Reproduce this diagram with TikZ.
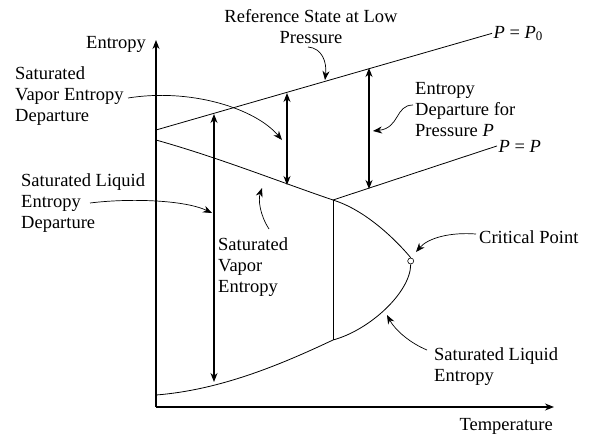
\documentclass[tikz,border=0pt]{standalone}
\usepackage{fontspec}
\setmainfont{Liberation Serif}
\usetikzlibrary{arrows.meta,positioning}

\begin{document}
\begin{tikzpicture}[x=1pt,y=-1pt,
  lbl/.style={font=\fontsize{18.5}{21}\selectfont,inner sep=0pt,align=left},
  curve/.style={line width=0.8pt},
  axis/.style={line width=1.1pt,-{Stealth[length=9pt,width=7pt]}},
  dim/.style={line width=1.1pt,{Stealth[length=9pt,width=7pt]}-{Stealth[length=9pt,width=7pt]}},
  call/.style={line width=0.7pt,-{Stealth[length=9pt,width=7pt]}}
]
\useasboundingbox (0,0) rectangle (592,437);

% axes
\coordinate (O)   at (156,407);
\coordinate (ytop) at (156,40);
\coordinate (xend) at (554,407);
\draw[axis] (O) -- (ytop);
\draw[axis] (O) -- (xend);
\node[lbl,anchor=base east] (ylab) at (146,48) {Entropy};
\node[lbl,anchor=base east] (xlab) at (553,430) {Temperature};

% isobars
\coordinate (p0a) at (156,130);
\coordinate (pa)  at (333,200);
\node[lbl,anchor=base west,inner sep=1.5pt] (p0lab) at (492,38) {\textit{P} = \textit{P}\textsubscript{0}};
\node[lbl,anchor=base west,inner sep=1.5pt] (plab)  at (497,152) {\textit{P} = \textit{P}};
\draw[curve] (p0a) -- (p0lab.west);
\draw[curve] (pa) -- (plab.west);

% saturation dome
\coordinate (sv0) at (156,140);
\coordinate (sl0) at (156,395);
\coordinate (pb)  at (333,340);
\node[circle,draw,fill=white,inner sep=0pt,minimum size=6pt,line width=0.6pt] (crit) at (410.7,261) {};
\draw[curve] (sv0) .. controls (220,158) and (280,182) .. (pa)
  .. controls (375,213) and (crit.north) .. (crit.north);
\draw[curve] (crit.south) .. controls (410.7,292) and (370,330) .. (pb)
  .. controls (280,365) and (220,390) .. (sl0);
\draw[curve] (pa) -- (pb);

% departures
\coordinate (d1a) at (287,93);  \coordinate (d1b) at (287,185);
\coordinate (d2a) at (369,68);  \coordinate (d2b) at (369,189);
\coordinate (d3a) at (214,114); \coordinate (d3b) at (214,382);
\draw[dim] (d1a) -- (d1b);
\draw[dim] (d2a) -- (d2b);
\draw[dim] (d3a) -- (d3b);

% labels and callouts
\node[lbl,align=center,anchor=north] (ref) at (311,9) {Reference State at Low\\Pressure};
\node[lbl,anchor=north west] (edp) at (415,82) {Entropy\\Departure for\\Pressure \textit{P}};
\node[lbl,anchor=north west] (svd) at (15,66) {Saturated\\Vapor Entropy\\Departure};
\node[lbl,anchor=north west] (sld) at (21,173) {Saturated Liquid\\Entropy\\Departure};
\node[lbl,anchor=north west] (sve) at (218,237) {Saturated\\Vapor\\Entropy};
\node[lbl,anchor=base west] (cpl) at (479,243) {Critical Point};
\node[lbl,anchor=north west] (sle) at (434,347) {Saturated Liquid\\Entropy};

\coordinate (c1) at (308,47);  \coordinate (t1) at (325,80);
\coordinate (c2) at (413,105); \coordinate (t2) at (373,131);
\coordinate (c3) at (128,98);  \coordinate (t3) at (282,140);
\coordinate (c4) at (90,203);  \coordinate (t4) at (212,213);
\coordinate (c5) at (269,229); \coordinate (t5) at (262,188);
\coordinate (c6) at (476,234); \coordinate (t6) at (416,252);
\coordinate (c7) at (427,350); \coordinate (t7) at (387,315);
\draw[call] (c1) .. controls (322,48) and (327,62) .. (t1);
\draw[call] (c2) .. controls (395,105) and (400,128) .. (t2);
\draw[call] (c3) .. controls (190,88) and (255,108) .. (t3);
\draw[call] (c4) .. controls (130,198) and (185,200) .. (t4);
\draw[call] (c5) .. controls (260,215) and (258,200) .. (t5);
\draw[call] (c6) .. controls (450,232) and (428,238) .. (t6);
\draw[call] (c7) .. controls (410,343) and (395,330) .. (t7);
\end{tikzpicture}
\end{document}
